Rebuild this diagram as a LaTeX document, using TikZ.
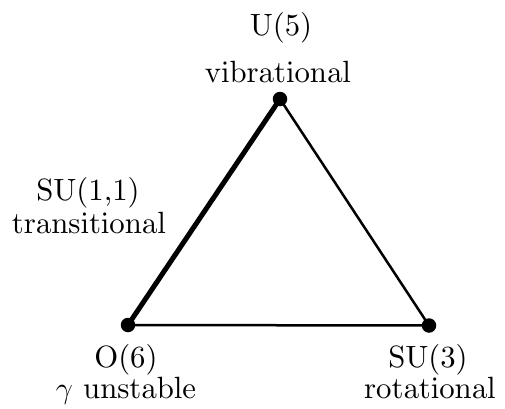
\documentclass[tikz,border=0pt]{standalone}
\usetikzlibrary{positioning}
\font\lblfont=cmr10 at 17.5pt

\begin{document}
\begin{tikzpicture}[
  vertex/.style = {circle, fill=black, inner sep=0pt, minimum size=0.29cm},
  lbl/.style    = {font={\fontsize{17.5}{21}\selectfont\lblfont}, anchor=base, inner sep=0pt},
  edge/.style   = {line width=0.05cm},
  heavy/.style  = {line width=0.1cm},
]
\useasboundingbox (0,0) rectangle (10.1,8.16);

% the three limits
\node[vertex] (u5)  at (5.60,6.18) {};
\node[vertex] (o6)  at (2.56,1.66) {};
\node[vertex] (su3) at (8.58,1.65) {};

\draw[heavy] (o6.center) -- (u5.center);
\draw[edge]  (u5.center) -- (su3.center) -- (o6.center);

% labels
\node[lbl] (u5name) at (5.62,7.46) {U(5)};
\node[lbl] (u5kind) at (5.56,6.52) {vibrational};
\node[lbl] (trname) at (1.76,4.16) {SU(1,1)};
\node[lbl] (trkind) at (1.78,3.50) {transitional};
\node[lbl] (o6name) at (2.52,0.82) {O(6)};
\node[lbl] (o6kind) at (2.52,0.20) {$\gamma$ unstable};
\node[lbl] (suname) at (8.56,0.82) {SU(3)};
\node[lbl] (sukind) at (8.60,0.20) {rotational};

\end{tikzpicture}
\end{document}
